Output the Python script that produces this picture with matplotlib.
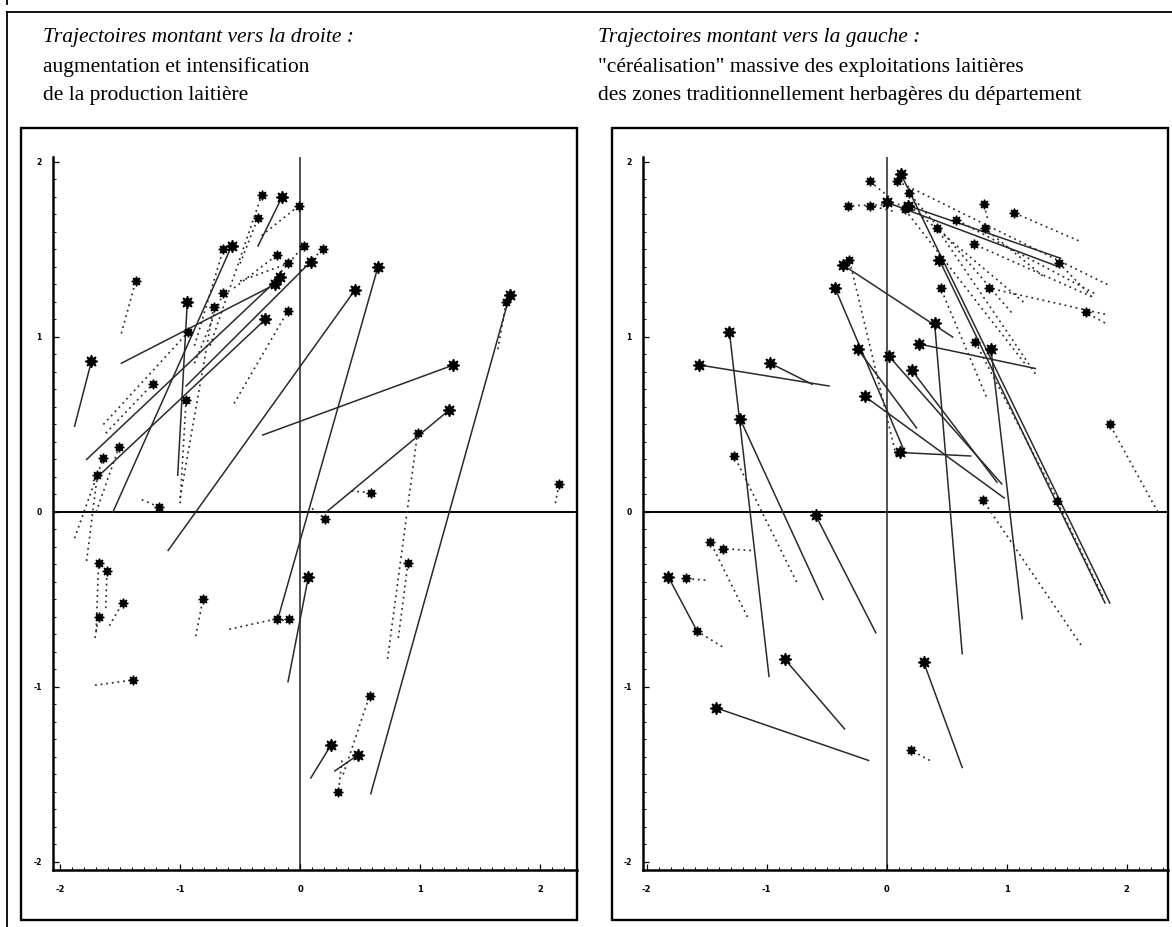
import matplotlib
matplotlib.use("Agg")
import matplotlib.pyplot as plt
from matplotlib.lines import Line2D
from matplotlib.patches import Rectangle
from matplotlib.ticker import MultipleLocator

# trajectories: start point (x0, y0) -> end point (x1, y1), kind "s" = solid, "d" = dotted
left_x0 = [-0.75, -0.35, -0.32, -0.50, -1.02, -1.56, -0.88, -1.49, -1.78, -1.72,
           -0.95, 0.00, -0.55, -0.50, -0.25, -0.88, -1.00, -0.55, -1.64, -1.62,
           -1.00, -1.49, -1.88, -1.32, -1.88, -1.78, -1.70, -1.70, -1.62, -1.59,
           -0.87, -1.71, -0.59, -0.10, -0.18, -1.10, 0.59, 1.65, 0.82, 0.73,
           0.22, 0.10, -0.31, 0.43, 2.13, 0.09, 0.29, 0.36, 0.35, -0.15, -1.71]
left_y0 = [0.95, 1.52, 1.58, 1.42, 0.21, 0.00, 0.95, 0.85, 0.30, 0.18,
           0.72, 1.38, 1.28, 1.32, 1.30, 0.85, 0.08, 0.62, 0.50, 0.45,
           0.05, 1.02, 0.49, 0.07, -0.15, -0.28, 0.00, -0.68, -0.55, -0.65,
           -0.71, -0.99, -0.67, -0.97, -0.60, -0.22, -1.61, 0.93, -0.72, -0.84,
           0.00, 0.02, 0.44, 0.12, 0.05, -1.52, -1.48, -1.50, -1.42, -0.62, -0.72]
left_x1 = [-0.32, -0.15, -0.01, -0.35, -0.94, -0.57, -0.64, -0.21, -0.17, -0.29,
           0.09, 0.19, -0.19, -0.10, 0.03, -0.64, -0.72, -0.10, -0.93, -1.23,
           -0.95, -1.37, -1.74, -1.18, -1.64, -1.69, -1.51, -1.68, -1.61, -1.48,
           -0.81, -1.39, -0.19, 0.07, 0.65, 0.46, 1.75, 1.72, 0.90, 0.98,
           1.24, 0.21, 1.28, 0.59, 2.16, 0.26, 0.48, 0.58, 0.32, -0.09, -1.68]
left_y1 = [1.81, 1.80, 1.75, 1.68, 1.20, 1.52, 1.50, 1.30, 1.34, 1.10,
           1.43, 1.50, 1.47, 1.42, 1.52, 1.25, 1.17, 1.15, 1.03, 0.73,
           0.64, 1.32, 0.86, 0.03, 0.31, 0.21, 0.37, -0.29, -0.34, -0.52,
           -0.50, -0.96, -0.61, -0.37, 1.40, 1.27, 1.24, 1.20, -0.29, 0.45,
           0.58, -0.04, 0.84, 0.11, 0.16, -1.33, -1.39, -1.05, -1.60, -0.61, -0.60]
left_kind = ["d", "s", "d", "d", "s", "s", "d", "s", "s", "s",
             "s", "d", "d", "d", "d", "d", "d", "d", "d", "d",
             "d", "d", "s", "d", "d", "d", "d", "d", "d", "d",
             "d", "d", "d", "s", "s", "s", "s", "d", "d", "d",
             "s", "d", "s", "d", "d", "s", "s", "d", "d", "d", "d"]

right_x0 = [-0.98, -0.48, -0.62, -0.53, -0.75, -0.09, 0.55, 0.08, 0.14, 0.25,
            0.98, 0.96, 0.92, 0.70, 0.63, 1.24, 1.86, 1.82, 1.40, 1.13,
            1.84, 1.44, 1.71, 0.84, 1.60, 1.82, 1.82, 1.71, 1.24, 0.83,
            1.15, 1.04, 1.62, 2.26, 0.25, 0.05, 0.02, 1.14, 1.73, -1.16,
            -1.13, -1.58, -1.37, -1.51, -0.35, -0.15, 0.63, 0.36, 1.80, 1.30, 1.45]
right_y0 = [-0.94, 0.72, 0.73, -0.50, -0.40, -0.69, 1.00, 0.32, 0.36, 0.48,
            0.08, 0.16, 0.17, 0.32, -0.81, 0.82, -0.52, -0.52, 0.10, -0.61,
            1.30, 1.40, 1.23, 1.68, 1.55, 1.13, 1.08, 1.23, 0.79, 0.66,
            0.85, 1.14, -0.76, 0.00, 1.76, 1.72, 1.80, 1.20, 1.25, -0.60,
            -0.22, -0.68, -0.77, -0.39, -1.24, -1.42, -1.46, -1.42, -0.48, 1.35, 1.45]
right_x1 = [-1.31, -1.56, -0.97, -1.22, -1.27, -0.59, -0.36, -0.31, -0.43, -0.24,
            -0.18, 0.02, 0.21, 0.11, 0.40, 0.27, 0.12, 0.44, 0.74, 0.87,
            0.09, 0.00, 1.44, 0.81, 1.06, 0.85, 1.66, 0.73, 0.42, 0.45,
            0.15, 0.19, 0.80, 1.86, -0.32, -0.14, -0.14, 0.19, 0.58, -1.47,
            -1.36, -1.82, -1.58, -1.67, -0.85, -1.42, 0.31, 0.20, 1.42, 0.82, 0.18]
right_y1 = [1.03, 0.84, 0.85, 0.53, 0.32, -0.02, 1.41, 1.44, 1.28, 0.93,
            0.66, 0.89, 0.81, 0.34, 1.08, 0.96, 1.93, 1.44, 0.97, 0.93,
            1.89, 1.77, 1.42, 1.76, 1.71, 1.28, 1.14, 1.53, 1.62, 1.28,
            1.73, 1.82, 0.07, 0.50, 1.75, 1.75, 1.89, 1.75, 1.67, -0.17,
            -0.21, -0.37, -0.68, -0.38, -0.84, -1.12, -0.86, -1.36, 0.06, 1.62, 1.75]
right_kind = ["s", "s", "s", "s", "d", "s", "s", "d", "s", "s",
              "s", "s", "s", "s", "s", "s", "s", "s", "d", "s",
              "d", "s", "d", "d", "d", "d", "d", "d", "d", "d",
              "d", "d", "d", "d", "d", "d", "d", "d", "d", "d",
              "d", "s", "d", "d", "s", "s", "s", "d", "d", "d", "s"]

tick_values = [-2, -1, 0, 1, 2]
tick_labels = ["-2", "-1", "0", "1", "2"]

left_header = ["Trajectoires montant vers la droite :",
               "augmentation et intensification",
               "de la production laitière"]
right_header = ["Trajectoires montant vers la gauche :",
                "\"céréalisation\" massive des exploitations laitières",
                "des zones traditionnellement herbagères du département"]

W, H = 1172, 927
fig = plt.figure(figsize=(W / 100, H / 100), dpi=100)
fig.patch.set_facecolor("white")


def frac(left, top, right, bottom):
    return [left / W, 1 - bottom / H, (right - left) / W, (bottom - top) / H]


# outer frame lines (top and left) of the scanned page
fig.add_artist(Line2D([7 / W, 1.0], [1 - 12 / H, 1 - 12 / H], color="black", lw=1.3))
fig.add_artist(Line2D([7 / W, 7 / W], [0, 1 - 12 / H], color="black", lw=1.3))
fig.add_artist(Line2D([7 / W, 7 / W], [1 - 0 / H, 1 - 4 / H], color="black", lw=1.3))

# panel boxes
for l, t, r, b in [(21, 128, 577, 920), (612, 128, 1168, 920)]:
    x, y, w, h = frac(l, t, r, b)
    fig.add_artist(Rectangle((x, y), w, h, transform=fig.transFigure,
                             fill=False, ec="black", lw=1.7))

# headers
serif = ["Liberation Serif", "DejaVu Serif"]
for x0, lines in [(43, left_header), (598, right_header)]:
    for i, (txt, base) in enumerate(zip(lines, [42, 72, 100])):
        fig.text(x0 / W, 1 - base / H, txt, family=serif, fontsize=15.5,
                 style="italic" if i == 0 else "normal", va="baseline", ha="left")


def draw_panel(rect, xlim, x0s, y0s, x1s, y1s, kinds):
    ax = fig.add_axes(rect)
    ax.set_xlim(*xlim)
    ax.set_ylim(-2.046, 2.03)
    ax.patch.set_alpha(0)
    for side in ["top", "right"]:
        ax.spines[side].set_visible(False)
    for side in ["left", "bottom"]:
        ax.spines[side].set_linewidth(1.8)
    ax.set_xticks(tick_values)
    ax.set_xticklabels(tick_labels, fontsize=6, fontweight="bold")
    ax.set_yticks(tick_values)
    ax.set_yticklabels(tick_labels, fontsize=5.5, fontweight="bold")
    ax.xaxis.set_minor_locator(MultipleLocator(0.1))
    ax.yaxis.set_minor_locator(MultipleLocator(0.1))
    ax.tick_params(which="major", direction="in", length=4, width=0.9)
    ax.tick_params(which="minor", direction="in", length=2.2, width=0.7)
    ax.tick_params(axis="x", which="major", pad=11)
    ax.tick_params(axis="y", which="major", pad=8)

    ax.axhline(0, color="black", lw=1.4, zorder=1)
    ax.axvline(0, color="#222222", lw=1.1, zorder=1)

    for xa, ya, xb, yb, k in zip(x0s, y0s, x1s, y1s, kinds):
        if k == "s":
            ax.plot([xa, xb], [ya, yb], color="#2a2a2a", lw=1.1, zorder=2)
            ax.plot([xb], [yb], marker=(8, 1, 0), ms=9, mew=1.0,
                    color="black", zorder=3)
        else:
            ax.plot([xa, xb], [ya, yb], color="#2a2a2a", lw=1.2,
                    ls=(0, (1.1, 2.3)), zorder=2)
            ax.plot([xb], [yb], marker=(8, 1, 0), ms=7, mew=0.9,
                    color="black", zorder=3)
    return ax


draw_panel(frac(53, 156.75, 577, 870), (-2.06, 2.31),
           left_x0, left_y0, left_x1, left_y1, left_kind)
draw_panel(frac(643, 156.75, 1168, 870), (-2.03, 2.345),
           right_x0, right_y0, right_x1, right_y1, right_kind)

fig.savefig("out.png", dpi=100, facecolor="white")
